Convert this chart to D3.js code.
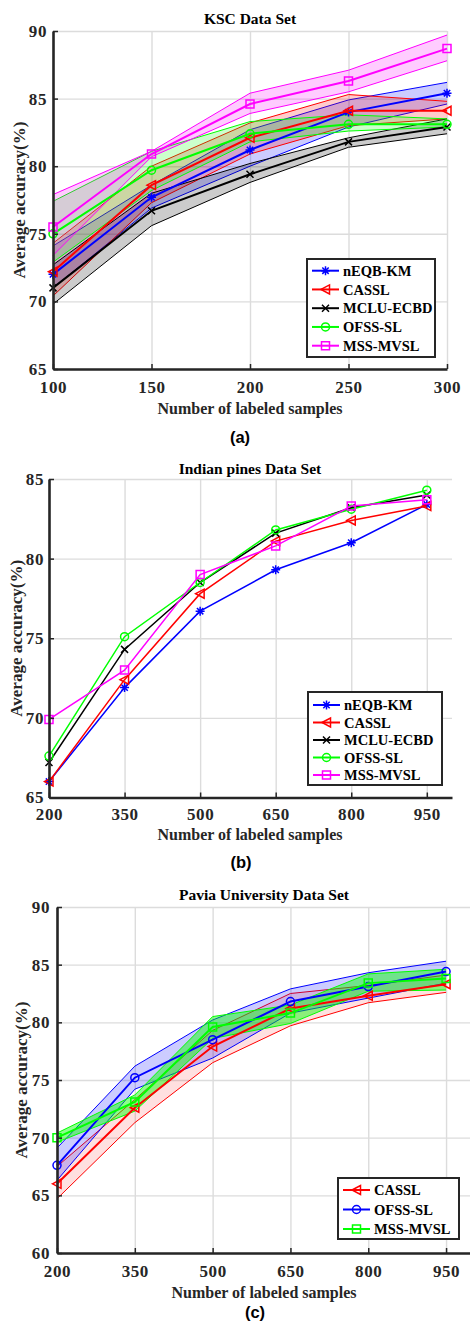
<!DOCTYPE html>
<html>
<head>
<meta charset="utf-8">
<script src="https://cdn.jsdelivr.net/npm/d3@7"></script>
<style>
body{margin:0;background:#fff;}
svg text{font-family:"Liberation Serif","Times New Roman",serif;font-weight:bold;}
</style>
</head>
<body>
<div id="grafica"></div>
<script>
// ---- (a) KSC data set
var kscX = [100, 150, 200, 250, 300];
var kscNeqb   = [72.0, 77.7, 81.2, 84.0, 85.4];
var kscNeqbLo = [71.0, 76.9, 80.0, 82.9, 84.6];
var kscNeqbHi = [74.1, 78.6, 82.7, 84.9, 86.2];
var kscCassl   = [72.2, 78.6, 82.1, 84.1, 84.1];
var kscCasslLo = [70.4, 77.3, 80.9, 83.0, 83.5];
var kscCasslHi = [74.3, 80.0, 83.2, 85.3, 84.8];
var kscMclu   = [71.0, 76.7, 79.4, 81.8, 82.9];
var kscMcluLo = [69.8, 75.6, 78.8, 81.4, 82.4];
var kscMcluHi = [72.7, 78.0, 80.2, 82.1, 83.5];
var kscOfss   = [75.0, 79.7, 82.4, 83.1, 83.1];
var kscOfssLo = [72.9, 78.2, 81.8, 82.6, 82.9];
var kscOfssHi = [77.4, 81.1, 83.3, 83.8, 83.5];
var kscMss   = [75.5, 80.9, 84.6, 86.3, 88.7];
var kscMssLo = [73.4, 80.7, 83.9, 85.5, 87.8];
var kscMssHi = [77.9, 81.1, 85.4, 87.1, 89.7];
var kscXTicks = [100, 150, 200, 250, 300];
var kscYTicks = [65, 70, 75, 80, 85, 90];

// ---- (b) Indian pines data set
var ipX = [200, 350, 500, 650, 800, 950];
var ipNeqb  = [66.0, 71.9, 76.7, 79.3, 81.0, 83.4];
var ipCassl = [66.0, 72.4, 77.8, 81.1, 82.4, 83.3];
var ipMclu  = [67.2, 74.3, 78.5, 81.6, 83.2, 84.0];
var ipOfss  = [67.6, 75.1, 78.5, 81.8, 83.1, 84.3];
var ipMss   = [69.9, 73.0, 79.0, 80.8, 83.3, 83.7];
var ipXTicks = [200, 350, 500, 650, 800, 950];
var ipYTicks = [65, 70, 75, 80, 85];

// ---- (c) Pavia University data set
var puX = [200, 350, 500, 650, 800, 950];
var puCassl   = [66.0, 72.6, 77.9, 81.2, 82.3, 83.3];
var puCasslLo = [64.7, 71.3, 76.5, 79.7, 81.7, 82.6];
var puCasslHi = [67.5, 73.3, 79.3, 82.5, 83.2, 84.1];
var puOfss   = [67.6, 75.2, 78.5, 81.8, 83.1, 84.4];
var puOfssLo = [66.3, 74.2, 76.9, 80.8, 82.1, 83.4];
var puOfssHi = [69.1, 76.2, 80.2, 82.9, 84.3, 85.3];
var puMss   = [70.0, 73.1, 79.6, 80.8, 83.4, 83.8];
var puMssLo = [69.6, 72.3, 78.6, 79.9, 82.7, 82.8];
var puMssHi = [70.4, 73.7, 80.5, 81.5, 84.2, 84.6];
var puXTicks = [200, 350, 500, 650, 800, 950];
var puYTicks = [60, 65, 70, 75, 80, 85, 90];

var svg = d3.select("#grafica")
  .append("svg")
    .attr("width", 470)
    .attr("height", 1323);

function toPts(xs, ys) {
  return xs.map(function(d, i) { return { x: d, y: ys[i] }; });
}

// marker shapes like matlab: * < x o s
function marker(g, type, cx, cy, color) {
  var r = 4;
  if (type == "o") {
    g.append("circle").attr("cx", cx).attr("cy", cy).attr("r", r)
      .attr("fill", "none").attr("stroke", color).attr("stroke-width", 1.5);
    return;
  }
  var p;
  if (type == "s") p = "M" + (-r) + "," + (-r) + "H" + r + "V" + r + "H" + (-r) + "Z";
  if (type == "x") p = "M-3.5,-3.5L3.5,3.5M-3.5,3.5L3.5,-3.5";
  if (type == "*") p = "M-4.5,0H4.5M0,-4.5V4.5M-3.2,-3.2L3.2,3.2M-3.2,3.2L3.2,-3.2";
  if (type == "<") p = "M-4.5,0L4,-4.5V4.5Z";
  g.append("path").attr("d", p)
    .attr("transform", "translate(" + cx + "," + cy + ")")
    .attr("fill", "none").attr("stroke", color).attr("stroke-width", 1.5);
}

function drawPanel(p) {
  var x = d3.scaleLinear().domain(p.xd).range([p.left, p.right]);
  var y = d3.scaleLinear().domain(p.yd).range([p.bottom, p.top]);
  var g = svg.append("g");

  // grid
  g.append("g")
    .attr("transform", "translate(0," + p.bottom + ")")
    .call(d3.axisBottom(x).tickValues(p.xt).tickSize(-(p.bottom - p.top)).tickFormat(""))
    .call(function(s) { s.select(".domain").remove(); })
    .selectAll("line").attr("stroke", "#dcdcdc").attr("stroke-width", 1.4);
  g.append("g")
    .attr("transform", "translate(" + p.left + ",0)")
    .call(d3.axisLeft(y).tickValues(p.yt).tickSize(-(p.gridRight - p.left)).tickFormat(""))
    .call(function(s) { s.select(".domain").remove(); })
    .selectAll("line").attr("stroke", "#dcdcdc").attr("stroke-width", 1.4);

  var line = d3.line().x(function(d) { return x(d.x); }).y(function(d) { return y(d.y); });
  var area = d3.area().x(function(d) { return x(d.x); })
    .y0(function(d) { return y(d.lo); }).y1(function(d) { return y(d.hi); });

  var plot = g.append("g");
  p.series.forEach(function(s) {
    if (s.lo) {
      var band = p.xs.map(function(d, i) { return { x: d, lo: s.lo[i], hi: s.hi[i] }; });
      plot.append("path").datum(band)
        .attr("d", area).attr("fill", s.color).attr("fill-opacity", s.alpha).attr("stroke", "none");
      plot.append("path").datum(toPts(p.xs, s.lo))
        .attr("d", line).attr("fill", "none").attr("stroke", s.color).attr("stroke-width", 1);
      plot.append("path").datum(toPts(p.xs, s.hi))
        .attr("d", line).attr("fill", "none").attr("stroke", s.color).attr("stroke-width", 1);
    }
  });
  p.series.forEach(function(s) {
    plot.append("path").datum(toPts(p.xs, s.v))
      .attr("d", line).attr("fill", "none").attr("stroke", s.color).attr("stroke-width", p.lw);
    s.v.forEach(function(v, i) { marker(plot, s.mk, x(p.xs[i]), y(v), s.color); });
  });

  // axes (left + bottom only, ticks pointing in)
  var ya = g.append("g")
    .attr("transform", "translate(" + p.left + ",0)")
    .call(d3.axisLeft(y).tickValues(p.yt).tickSizeInner(-5).tickSizeOuter(0).tickPadding(p.ypad));
  var xa = g.append("g")
    .attr("transform", "translate(0," + p.bottom + ")")
    .call(d3.axisBottom(x).tickValues(p.xt).tickSizeInner(-5).tickSizeOuter(0).tickPadding(p.xpad));
  [ya, xa].forEach(function(a) {
    a.select(".domain").attr("stroke", "#262626").attr("stroke-width", 2.6);
    a.selectAll(".tick line").attr("stroke", "#262626").attr("stroke-width", 1.5);
    a.selectAll(".tick text")
      .attr("fill", "#262626")
      .style("font-family", "Liberation Serif")
      .style("font-weight", "bold")
      .style("font-size", "17px")
      .style("letter-spacing", "0.6px");
  });

  // titles
  g.append("text")
    .attr("x", p.titleX).attr("y", p.titleY)
    .attr("text-anchor", "middle")
    .style("font-size", "15.5px")
    .text(p.title);
  g.append("text")
    .attr("x", p.titleX).attr("y", p.xlabY)
    .attr("text-anchor", "middle")
    .style("font-size", "16px")
    .attr("fill", "#262626")
    .text("Number of labeled samples");
  g.append("text")
    .attr("transform", "translate(" + p.ylabX + "," + ((p.top + p.bottom) / 2) + ") rotate(-90)")
    .attr("text-anchor", "middle")
    .attr("dy", "0.35em")
    .style("font-size", "17px")
    .attr("fill", "#262626")
    .text("Average accuracy(%)");
  g.append("text")
    .attr("x", p.subX).attr("y", p.subY)
    .attr("text-anchor", "middle")
    .style("font-family", "Liberation Sans, Arial, sans-serif")
    .style("font-size", "16.5px")
    .text(p.sub);

  // legend
  var L = p.legend;
  g.append("rect")
    .attr("x", L.x).attr("y", L.y).attr("width", L.w).attr("height", L.h)
    .attr("fill", "#fff").attr("stroke", "#262626").attr("stroke-width", 2);
  p.series.forEach(function(s, i) {
    var yy = L.y0 + i * L.step;
    g.append("line")
      .attr("x1", L.x + 5).attr("x2", L.x + 32).attr("y1", yy).attr("y2", yy)
      .attr("stroke", s.color).attr("stroke-width", 2);
    marker(g, s.mk, L.x + 18.5, yy, s.color);
    g.append("text")
      .attr("x", L.x + 36).attr("y", yy).attr("dy", "0.35em")
      .style("font-size", "14.5px")
      .attr("fill", "#000")
      .text(s.name);
  });
}

drawPanel({
  xs: kscX, xd: [100, 300], yd: [65, 90], xt: kscXTicks, yt: kscYTicks,
  left: 53, right: 447, top: 31, bottom: 369, gridRight: 447,
  lw: 2, xpad: 12, ypad: 6,
  title: "KSC Data Set", titleX: 250, titleY: 24, xlabY: 414, ylabX: 19,
  sub: "(a)", subX: 240, subY: 443,
  legend: { x: 307, y: 259, w: 128, h: 98, y0: 270.7, step: 18.75 },
  series: [
    { name: "nEQB-KM", v: kscNeqb, lo: kscNeqbLo, hi: kscNeqbHi, color: "#0000ff", alpha: 0.2, mk: "*" },
    { name: "CASSL", v: kscCassl, lo: kscCasslLo, hi: kscCasslHi, color: "#ff0000", alpha: 0.2, mk: "<" },
    { name: "MCLU-ECBD", v: kscMclu, lo: kscMcluLo, hi: kscMcluHi, color: "#000000", alpha: 0.2, mk: "x" },
    { name: "OFSS-SL", v: kscOfss, lo: kscOfssLo, hi: kscOfssHi, color: "#00ff00", alpha: 0.2, mk: "o" },
    { name: "MSS-MVSL", v: kscMss, lo: kscMssLo, hi: kscMssHi, color: "#ff00ff", alpha: 0.2, mk: "s" }
  ]
});

drawPanel({
  xs: ipX, xd: [200, 1000], yd: [65, 85], xt: ipXTicks, yt: ipYTicks,
  left: 49, right: 452, top: 479, bottom: 797.5, gridRight: 452,
  lw: 1.5, xpad: 10, ypad: 5,
  title: "Indian pines Data Set", titleX: 250, titleY: 474, xlabY: 840, ylabX: 16,
  sub: "(b)", subX: 241, subY: 868,
  legend: { x: 308, y: 692, w: 134, h: 93, y0: 705, step: 17.5 },
  series: [
    { name: "nEQB-KM", v: ipNeqb, color: "#0000ff", mk: "*" },
    { name: "CASSL", v: ipCassl, color: "#ff0000", mk: "<" },
    { name: "MCLU-ECBD", v: ipMclu, color: "#000000", mk: "x" },
    { name: "OFSS-SL", v: ipOfss, color: "#00ff00", mk: "o" },
    { name: "MSS-MVSL", v: ipMss, color: "#ff00ff", mk: "s" }
  ]
});

drawPanel({
  xs: puX, xd: [200, 1000], yd: [60, 90], xt: puXTicks, yt: puYTicks,
  left: 57, right: 472, top: 907, bottom: 1253, gridRight: 472,
  lw: 2, xpad: 12, ypad: 7,
  title: "Pavia University Data Set", titleX: 264, titleY: 900, xlabY: 1298, ylabX: 21,
  sub: "(c)", subX: 255, subY: 1318,
  legend: { x: 338, y: 1178, w: 121, h: 61, y0: 1190, step: 19.5 },
  series: [
    { name: "CASSL", v: puCassl, lo: puCasslLo, hi: puCasslHi, color: "#ff0000", alpha: 0.12, mk: "<" },
    { name: "OFSS-SL", v: puOfss, lo: puOfssLo, hi: puOfssHi, color: "#0000ff", alpha: 0.2, mk: "o" },
    { name: "MSS-MVSL", v: puMss, lo: puMssLo, hi: puMssHi, color: "#00ff00", alpha: 0.45, mk: "s" }
  ]
});
</script>
</body>
</html>
